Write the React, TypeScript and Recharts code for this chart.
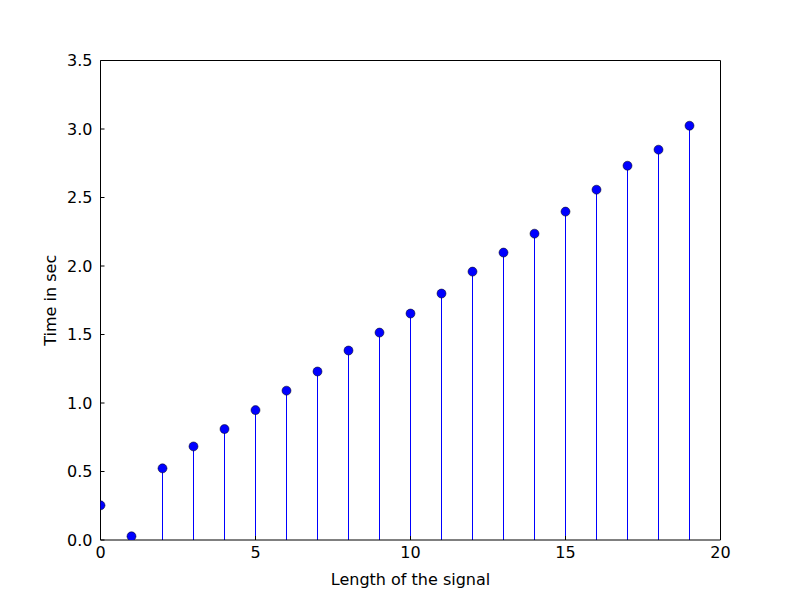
import { ComposedChart, ErrorBar, Scatter, XAxis, YAxis, Label } from "recharts";

// signal length vs. time
const lengths = [0, 1, 2, 3, 4, 5, 6, 7, 8, 9, 10, 11, 12, 13, 14, 15, 16, 17, 18, 19];
const times = [
  0.253, 0.027, 0.523, 0.683, 0.81, 0.948, 1.09, 1.23, 1.383, 1.514,
  1.653, 1.799, 1.959, 2.098, 2.236, 2.397, 2.557, 2.732, 2.849, 3.024,
];
const xTicks = [0, 5, 10, 15, 20];
const yTicks = [0, 0.5, 1, 1.5, 2, 2.5, 3, 3.5];

const BLUE = "#0000ff";
const FONT = 16;

// stem goes from the value down to zero
const data = lengths.map((n, i) => ({ n, t: times[i], stem: [times[i], 0] }));

function Marker(props: any) {
  const { cx, cy } = props;
  if (cx == null || cy == null) return null;
  return <circle cx={cx} cy={cy} r={4.5} fill={BLUE} stroke="#000" strokeWidth={0.5} />;
}

export default function App() {
  return (
    <div style={{ position: "absolute", left: 0, top: 0, background: "#fff", fontFamily: "'DejaVu Sans', sans-serif" }}>
      <ComposedChart
        width={800}
        height={600}
        data={data}
        margin={{ top: 59.5, right: 78.5, bottom: 0, left: 0.5 }}
      >
        <XAxis
          dataKey="n"
          type="number"
          domain={[0, 20]}
          ticks={xTicks}
          interval={0}
          allowDataOverflow
          height={60}
          tickSize={-4}
          tickMargin={11}
          tick={{ fill: "#000", fontSize: FONT }}
          tickLine={{ stroke: "#000" }}
          axisLine={{ stroke: "#000" }}
        >
          <Label value="Length of the signal" position="center" dy={9} fill="#000" fontSize={FONT} />
        </XAxis>
        <XAxis
          xAxisId="top"
          orientation="top"
          dataKey="n"
          type="number"
          domain={[0, 20]}
          ticks={xTicks}
          interval={0}
          allowDataOverflow
          height={1}
          tickSize={-4}
          tick={false}
          tickLine={{ stroke: "#000" }}
          axisLine={{ stroke: "#000" }}
        />
        <YAxis
          type="number"
          domain={[0, 3.5]}
          ticks={yTicks}
          interval={0}
          allowDataOverflow
          width={100}
          tickSize={-4}
          tickMargin={12}
          tickFormatter={(v: number) => v.toFixed(1)}
          tick={{ fill: "#000", fontSize: FONT }}
          tickLine={{ stroke: "#000" }}
          axisLine={{ stroke: "#000" }}
        >
          <Label value="Time in sec" angle={-90} position="center" fill="#000" fontSize={FONT} />
        </YAxis>
        <YAxis
          yAxisId="right"
          orientation="right"
          type="number"
          domain={[0, 3.5]}
          ticks={yTicks}
          interval={0}
          allowDataOverflow
          width={1}
          tickSize={-4}
          tick={false}
          tickLine={{ stroke: "#000" }}
          axisLine={{ stroke: "#000" }}
        />
        <Scatter dataKey="t" shape={<Marker />} isAnimationActive={false}>
          <ErrorBar dataKey="stem" direction="y" width={0} stroke={BLUE} strokeWidth={1} isAnimationActive={false} />
        </Scatter>
      </ComposedChart>
    </div>
  );
}
